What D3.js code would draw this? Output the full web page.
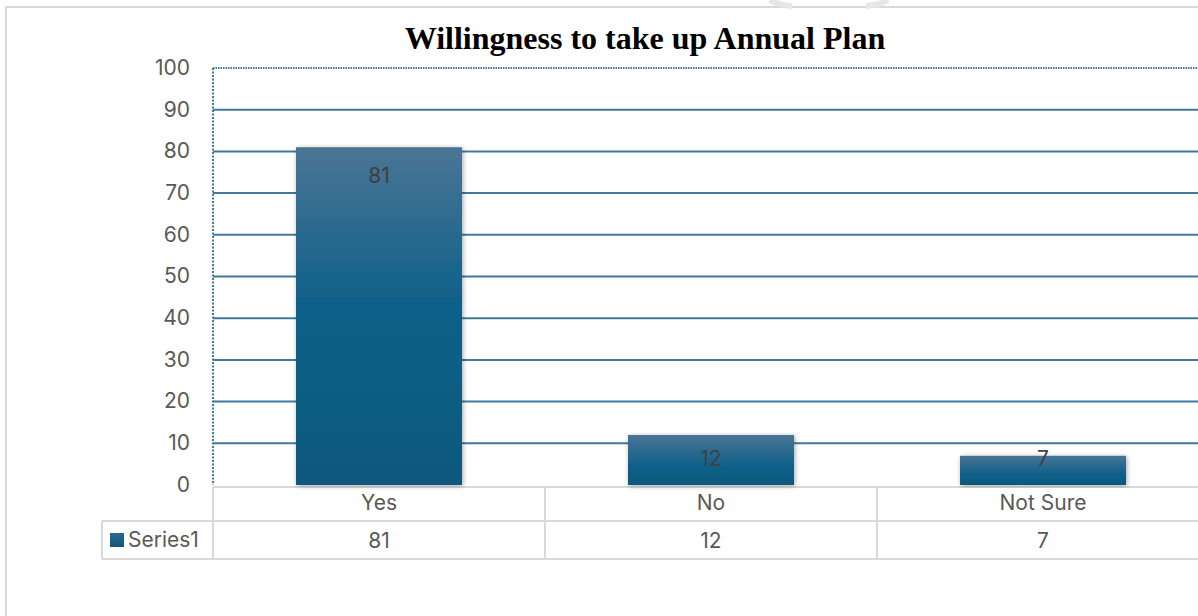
<!DOCTYPE html>
<html>
<head>
<meta charset="utf-8">
<script src="https://cdn.jsdelivr.net/npm/d3@7"></script>
<style>
  html, body { margin: 0; padding: 0; background: #fff; overflow: hidden; }
  svg { display: block; }
</style>
</head>
<body>
<svg id="chart" width="1198" height="616"></svg>
<script>
// Survey responses
const categories = ["Yes", "No", "Not Sure"];
const values = [81, 12, 7];
const seriesName = "Series1";
const yTicks = [0, 10, 20, 30, 40, 50, 60, 70, 80, 90, 100];
const titleText = "Willingness to take up Annual Plan";

const svg = d3.select("#chart");
const W = 1198, H = 616;
const FONT = "Inter, 'Noto Sans', sans-serif";
const FS = 21;

// plot area
const plotLeft = 213, plotTop = 68, plotBottom = 485;
const catW = 332;
const plotRight = plotLeft + catW * categories.length;

const x = d3.scaleBand().domain(categories).range([plotLeft, plotRight]).paddingInner(0.5).paddingOuter(0.25);
const xCell = d3.scaleBand().domain(categories).range([plotLeft, plotRight]);
const y = d3.scaleLinear().domain([0, 100]).range([plotBottom, plotTop]);

const defs = svg.append("defs");
const grad = defs.append("linearGradient").attr("id", "barFill")
  .attr("gradientUnits", "userSpaceOnUse")
  .attr("x1", 0).attr("x2", 0).attr("y1", y(81)).attr("y2", plotBottom);
grad.append("stop").attr("offset", "0%").attr("stop-color", "#4a7595");
grad.append("stop").attr("offset", "45%").attr("stop-color", "#11618a");
grad.append("stop").attr("offset", "100%").attr("stop-color", "#0c587c");

const gradShort = defs.append("linearGradient").attr("id", "barFillShort")
  .attr("x1", 0).attr("x2", 0).attr("y1", 0).attr("y2", 1);
gradShort.append("stop").attr("offset", "0%").attr("stop-color", "#4a7595");
gradShort.append("stop").attr("offset", "60%").attr("stop-color", "#11618a");
gradShort.append("stop").attr("offset", "100%").attr("stop-color", "#0c587c");

const legendGrad = defs.append("linearGradient").attr("id", "legendFill")
  .attr("x1", 0).attr("x2", 0).attr("y1", 0).attr("y2", 1);
legendGrad.append("stop").attr("offset", "0%").attr("stop-color", "#2f6a8e");
legendGrad.append("stop").attr("offset", "100%").attr("stop-color", "#0c587c");

const shadow = defs.append("filter").attr("id", "shadow")
  .attr("x", "-10%").attr("y", "-10%").attr("width", "120%").attr("height", "120%");
shadow.append("feDropShadow").attr("dx", 1).attr("dy", 1).attr("stdDeviation", 2.5)
  .attr("flood-color", "#000").attr("flood-opacity", 0.35);

// outer frame
svg.append("path")
  .attr("d", `M6,${H} L6,7 L${W},7`)
  .attr("fill", "none").attr("stroke", "#d9d9d9").attr("stroke-width", 2);

// faint emblem edge above the frame
svg.append("path")
  .attr("d", "M770,0 Q778,5 792,6 M888,0 Q880,5 866,6")
  .attr("fill", "none").attr("stroke", "#e6e6e6").attr("stroke-width", 6);

// title
svg.append("text")
  .attr("x", 645).attr("y", 49)
  .attr("text-anchor", "middle")
  .attr("font-family", "'Liberation Serif', 'Times New Roman', serif")
  .attr("font-weight", "bold").attr("font-size", 32)
  .attr("fill", "#000")
  .text(titleText);

// gridlines
svg.append("g").selectAll("line")
  .data(yTicks.filter(d => d > 0 && d < 100))
  .join("line")
  .attr("x1", plotLeft).attr("x2", W)
  .attr("y1", d => y(d)).attr("y2", d => y(d))
  .attr("stroke", "#3f7a9a").attr("stroke-width", 2);

// top border (dotted) and left axis (dotted)
svg.append("line")
  .attr("x1", plotLeft).attr("x2", W).attr("y1", y(100)).attr("y2", y(100))
  .attr("stroke", "#3f7a9a").attr("stroke-width", 2).attr("stroke-dasharray", "1.5,1");
svg.append("line")
  .attr("x1", plotLeft).attr("x2", plotLeft).attr("y1", y(100)).attr("y2", plotBottom)
  .attr("stroke", "#3f7a9a").attr("stroke-width", 2).attr("stroke-dasharray", "2,1.5");

// y axis labels
const yAxis = d3.axisLeft(y).tickValues(yTicks).tickSize(0).tickPadding(0);
const yg = svg.append("g").attr("transform", `translate(${plotLeft - 23},-1)`).call(yAxis);
yg.select(".domain").remove();
yg.selectAll("text")
  .attr("font-family", FONT)
  .attr("font-size", FS).attr("fill", "#595959")
  .attr("dy", "0.35em");

// data table grid
const row1Top = 487, row2Top = 521, row2Bot = 559, tblLeft = 102;
const tbl = svg.append("g").attr("stroke", "#d9d9d9").attr("stroke-width", 2).attr("fill", "none");
tbl.append("line").attr("x1", plotLeft).attr("x2", W).attr("y1", row1Top).attr("y2", row1Top);
tbl.append("line").attr("x1", tblLeft).attr("x2", W).attr("y1", row2Top).attr("y2", row2Top);
tbl.append("line").attr("x1", tblLeft).attr("x2", W).attr("y1", row2Bot).attr("y2", row2Bot);
tbl.append("line").attr("x1", tblLeft).attr("x2", tblLeft).attr("y1", row2Top).attr("y2", row2Bot);
tbl.append("line").attr("x1", plotLeft).attr("x2", plotLeft).attr("y1", row1Top).attr("y2", row2Bot);
tbl.selectAll(".sep").data(categories.slice(1)).join("line")
  .attr("x1", d => xCell(d)).attr("x2", d => xCell(d))
  .attr("y1", row1Top).attr("y2", row2Bot);

// bars
svg.append("g").selectAll("rect")
  .data(categories.map((c, i) => ({ c, v: values[i] })))
  .join("rect")
  .attr("x", d => x(d.c))
  .attr("width", x.bandwidth())
  .attr("y", d => y(d.v))
  .attr("height", d => plotBottom - y(d.v))
  .attr("fill", d => d.v > 50 ? "url(#barFill)" : "url(#barFillShort)")
  .attr("filter", "url(#shadow)");

// value labels
svg.append("g").selectAll("text")
  .data(categories.map((c, i) => ({ c, v: values[i] })))
  .join("text")
  .attr("x", d => x(d.c) + x.bandwidth() / 2)
  .attr("y", d => Math.min(y(d.v) + 28, plotBottom - 26))
  .attr("dy", "0.35em")
  .attr("text-anchor", "middle")
  .attr("font-family", FONT)
  .attr("font-size", FS).attr("fill", "#404040")
  .text(d => d.v);

const textStyle = sel => sel
  .attr("font-family", FONT)
  .attr("font-size", FS).attr("fill", "#595959")
  .attr("dy", "0.35em");

// category row
svg.append("g").selectAll("text").data(categories).join("text")
  .attr("x", d => xCell(d) + xCell.bandwidth() / 2)
  .attr("y", (row1Top + row2Top) / 2 - 1)
  .attr("text-anchor", "middle")
  .call(textStyle)
  .text(d => d);

// value row
svg.append("g").selectAll("text").data(categories.map((c, i) => ({ c, v: values[i] }))).join("text")
  .attr("x", d => xCell(d.c) + xCell.bandwidth() / 2)
  .attr("y", (row2Top + row2Bot) / 2 + 1)
  .attr("text-anchor", "middle")
  .call(textStyle)
  .text(d => d.v);

// legend key in table
svg.append("rect")
  .attr("x", 110).attr("y", 533).attr("width", 14).attr("height", 14)
  .attr("fill", "url(#legendFill)");
svg.append("text")
  .attr("x", 128).attr("y", (row2Top + row2Bot) / 2)
  .call(textStyle)
  .text(seriesName);
</script>
</body>
</html>
